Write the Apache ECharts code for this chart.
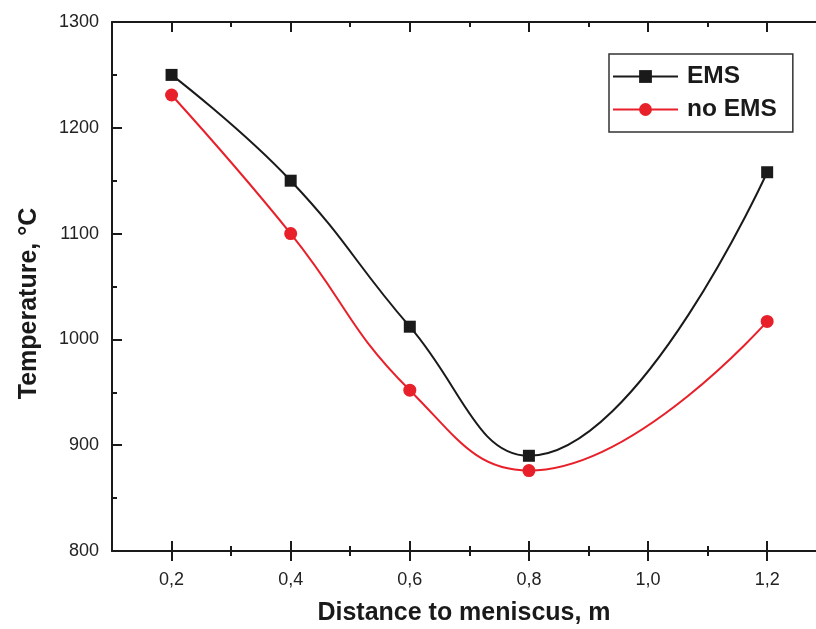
<!DOCTYPE html>
<html><head><meta charset="utf-8">
<script src="https://cdn.jsdelivr.net/npm/echarts@6/dist/echarts.min.js"></script>
<style>html,body{margin:0;padding:0;background:#fff}#c{width:816px;height:629px}</style>
</head><body><div id="c"></div>
<script>
const distance = [0.2, 0.4, 0.6, 0.8, 1.2];
const emsTemp = [1250, 1150, 1012, 890, 1158];
const noEmsTemp = [1231, 1100, 952, 876, 1017];
const majorX = [0.2, 0.4, 0.6, 0.8, 1.0, 1.2];
const minorX = [0.3, 0.5, 0.7, 0.9, 1.1];
const seriesNames = ['EMS', 'no EMS'];
const xTitle = 'Distance to meniscus, m';
const yTitle = 'Temperature, °C';

const FONT = '"Liberation Sans", Arial, sans-serif';
const AX = '#1a1a1a';
const XMIN = 0.1, XMAX = 1.282;

function xAx(pos, ticks, inside, len, opts) {
  return Object.assign({
    type: 'value', position: pos, min: XMIN, max: XMAX,
    axisLine: { show: false, lineStyle: { color: AX, width: 2 } },
    axisTick: { show: true, inside: inside, length: len, customValues: ticks, lineStyle: { color: AX, width: 2 } },
    axisLabel: { show: false },
    splitLine: { show: false }
  }, opts || {});
}

const chart = echarts.init(document.getElementById('c'), null, { renderer: 'canvas' });
chart.setOption({
  animation: false,
  backgroundColor: '#fff',
  grid: { left: 112, right: 0, top: 22, bottom: 78, outerBoundsMode: 'none', containLabel: false },
  legend: {
    left: 609, top: 54,
    orient: 'vertical',
    data: seriesNames,
    itemWidth: 65, itemHeight: 16, itemGap: 8,
    borderColor: '#333', borderWidth: 1.5,
    padding: [10, 16, 10, 3],
    textStyle: { fontFamily: FONT, fontSize: 24.5, fontWeight: 'bold', color: '#1a1a1a', padding: [0, 0, 0, 4] }
  },
  xAxis: [
    xAx('bottom', majorX, false, 10, {
      axisLine: { show: true, onZero: false, lineStyle: { color: AX, width: 2 } },
      axisLabel: { show: true, customValues: majorX, margin: 20, fontFamily: FONT, fontSize: 18, color: '#222',
        formatter: v => v.toFixed(1).replace('.', ',') },
      name: xTitle, nameLocation: 'middle', nameGap: 50,
      nameTextStyle: { fontFamily: FONT, fontSize: 25, fontWeight: 'bold', color: '#1a1a1a' }
    }),
    xAx('bottom', majorX, true, 10),
    xAx('bottom', minorX, false, 5),
    xAx('bottom', minorX, true, 5),
    xAx('top', majorX, true, 10, { axisLine: { show: true, onZero: false, lineStyle: { color: AX, width: 2 } } }),
    xAx('top', minorX, true, 5)
  ],
  yAxis: [{
    type: 'value', position: 'left', min: 800, max: 1300, interval: 100,
    axisLine: { show: true, onZero: false, lineStyle: { color: AX, width: 2 } },
    axisTick: { show: true, inside: true, length: 10, lineStyle: { color: AX, width: 2 } },
    minorTick: { show: true, splitNumber: 2, length: 5, lineStyle: { color: AX, width: 2 } },
    axisLabel: { margin: 13, fontFamily: FONT, fontSize: 18, color: '#222', formatter: v => String(v) },
    splitLine: { show: false },
    name: yTitle, nameLocation: 'middle', nameGap: 70, nameRotate: 90,
    nameTextStyle: { fontFamily: FONT, fontSize: 25, fontWeight: 'bold', color: '#1a1a1a', padding: [0, 0, 0, -34] }
  }],
  series: [
    {
      name: seriesNames[0], type: 'line', xAxisIndex: 0, yAxisIndex: 0,
      data: distance.map((d, i) => [d, emsTemp[i]]),
      smooth: 0.45, symbol: 'rect', symbolSize: 12,
      lineStyle: { color: '#1a1a1a', width: 2 },
      itemStyle: { color: '#1a1a1a' }
    },
    {
      name: seriesNames[1], type: 'line', xAxisIndex: 0, yAxisIndex: 0,
      data: distance.map((d, i) => [d, noEmsTemp[i]]),
      smooth: 0.45, symbol: 'circle', symbolSize: 13,
      lineStyle: { color: '#e8202a', width: 2 },
      itemStyle: { color: '#e8202a' }
    }
  ]
});
</script></body></html>
